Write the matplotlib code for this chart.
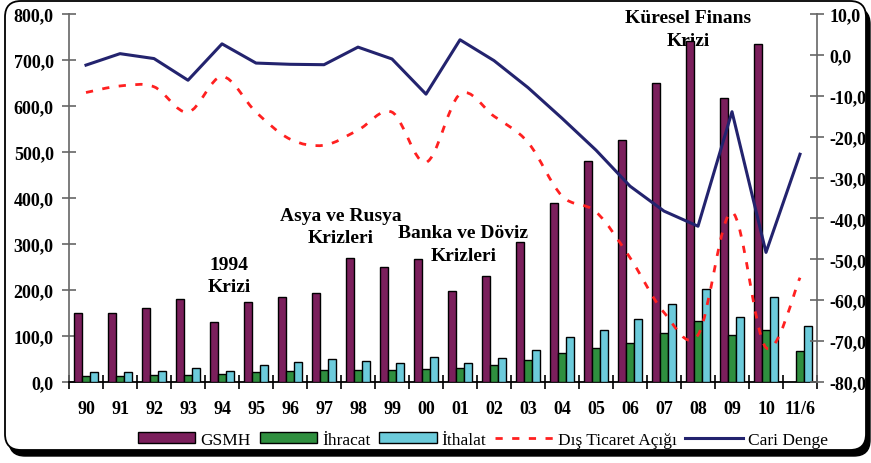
import numpy as np
import matplotlib
matplotlib.use("Agg")
import matplotlib.pyplot as plt
from matplotlib.path import Path
from matplotlib.patches import PathPatch, FancyBboxPatch, Patch
from matplotlib.lines import Line2D
from matplotlib.transforms import IdentityTransform
from matplotlib.ticker import FuncFormatter, FixedLocator

# data (billion USD)
years = ['90', '91', '92', '93', '94', '95', '96', '97', '98', '99', '00',
         '01', '02', '03', '04', '05', '06', '07', '08', '09', '10', '11/6']
gsmh = [151, 151, 160, 181, 131, 173, 184, 193, 270, 249, 267,
        197, 231, 305, 390, 481, 526, 649, 742, 617, 735, np.nan]
ihracat = [13, 14, 15, 15, 18, 22, 24, 27, 27, 27, 28,
           31, 37, 48, 64, 73, 85, 107, 132, 102, 114, 67]
ithalat = [22, 22, 24, 30, 24, 37, 43, 49, 46, 41, 55,
           42, 52, 70, 98, 114, 138, 170, 203, 142, 185, 122]
dis_ticaret = [-9.2, -7.6, -7.8, -14.0, -5.3, -14.0, -20.6, -22.1, -18.4, -14.0, -26.3,
               -9.6, -15.0, -21.4, -34.5, -38.4, -49.6, -63.0, -68.5, -38.5, -71.6, -54.5]
cari_denge = [-2.5, 0.3, -0.9, -6.2, 2.7, -2.0, -2.3, -2.4, 1.9, -1.0, -9.6,
              3.7, -1.4, -8.0, -15.5, -23.3, -32.1, -38.2, -41.9, -13.9, -48.3, -24.3]

c_gsmh = '#7b1f5c'
c_ihr = '#2f8f3f'
c_ith = '#6ccbdb'
c_dis = '#ff2020'
c_cari = '#23236e'
axis_gray = '#666666'

plt.rcParams['font.family'] = ['Liberation Serif', 'DejaVu Serif']


def smooth_path(xs, ys):
    # bezier through the points, excel-like smoothing
    pts = np.column_stack([xs, ys])
    verts = [pts[0]]
    codes = [Path.MOVETO]
    n = len(pts)
    for i in range(n - 1):
        p0 = pts[i - 1] if i > 0 else pts[i]
        p1 = pts[i]
        p2 = pts[i + 1]
        p3 = pts[i + 2] if i + 2 < n else pts[i + 1]
        c1 = p1 + (p2 - p0) / 6.0
        c2 = p2 - (p3 - p1) / 6.0
        verts += [c1, c2, p2]
        codes += [Path.CURVE4] * 3
    return Path(verts, codes)


fig = plt.figure(figsize=(8.71, 4.64), dpi=100)

# rounded frame with shadow
shadow = FancyBboxPatch((9, 7), 861, 448, boxstyle="round,pad=0,rounding_size=16",
                        transform=IdentityTransform(), facecolor='black', edgecolor='black', zorder=-10)
frame = FancyBboxPatch((5, 13), 861, 449, boxstyle="round,pad=0,rounding_size=16",
                       transform=IdentityTransform(), facecolor='white', edgecolor='black',
                       linewidth=1.3, zorder=-9)
fig.add_artist(shadow)
fig.add_artist(frame)

ax1 = fig.add_axes([69 / 871, 1 - 383 / 464, (817 - 69) / 871, (383 - 15) / 464])
ax1.patch.set_visible(False)
x = np.arange(len(years))
w = 0.227

ax1.bar(x - w, gsmh, w, color=c_gsmh, edgecolor='black', linewidth=1.0, zorder=3)
ax1.bar(x, ihracat, w, color=c_ihr, edgecolor='black', linewidth=1.0, zorder=3)
ax1.bar(x + w, ithalat, w, color=c_ith, edgecolor='black', linewidth=1.0, zorder=3)

ax1.set_xlim(-0.5, len(years) - 0.5)
ax1.set_ylim(0, 800)
ax1.set_yticks(np.arange(0, 801, 100))
ax1.yaxis.set_major_formatter(FuncFormatter(lambda v, p: f'{v:.1f}'.replace('.', ',')))
ax1.set_xticks(x)
ax1.set_xticklabels(years)
ax1.xaxis.set_minor_locator(FixedLocator(np.arange(-0.5, len(years), 1.0)))
ax1.tick_params(axis='x', which='major', length=0, pad=13)
ax1.tick_params(axis='x', which='minor', direction='inout', length=10, width=1.2, color='black')
ax1.tick_params(axis='y', direction='inout', length=10, width=1.2, color=axis_gray, pad=6)
for lab in ax1.get_xticklabels() + ax1.get_yticklabels():
    lab.set_fontweight('bold')
    lab.set_fontsize(13)

for s in ['top', 'right']:
    ax1.spines[s].set_visible(False)
ax1.spines['left'].set_color(axis_gray)
ax1.spines['left'].set_linewidth(1.2)
ax1.spines['bottom'].set_color('black')
ax1.spines['bottom'].set_linewidth(1.3)

# crisis labels (y given in picture pixels, centre of the two lines)
notes = [(4.2, 276.5, '1994\nKrizi'), (7.5, 227.5, 'Asya ve Rusya\nKrizleri'),
         (11.1, 245, 'Banka ve Döviz\nKrizleri'), (17.7, 30, 'Küresel Finans\nKrizi')]
for nx, ny, txt in notes:
    ax1.text(nx, (383 - ny) / 0.46, txt, ha='center', va='center', fontsize=14,
             fontweight='bold', linespacing=1.4, zorder=1)

ax2 = ax1.twinx()
ax2.set_ylim(-80, 10)
ax2.set_yticks(np.arange(-80, 11, 10))
ax2.yaxis.set_major_formatter(FuncFormatter(lambda v, p: f'{v:.1f}'.replace('.', ',')))
ax2.tick_params(axis='y', direction='inout', length=10, width=1.2, color=axis_gray, pad=4)
for lab in ax2.get_yticklabels():
    lab.set_fontweight('bold')
    lab.set_fontsize(13)
for s in ['top', 'left', 'bottom']:
    ax2.spines[s].set_visible(False)
ax2.spines['right'].set_color(axis_gray)
ax2.spines['right'].set_linewidth(1.2)

dash = (0, (2.6, 3.4))
ax2.add_patch(PathPatch(smooth_path(x.astype(float), np.array(dis_ticaret)), fill=False,
                        edgecolor=c_dis, linewidth=2.0, linestyle=dash, zorder=4))
ax2.plot(x, cari_denge, color=c_cari, linewidth=2.2, zorder=5)

handles = [Patch(facecolor=c_gsmh, edgecolor='black', linewidth=1.0),
           Patch(facecolor=c_ihr, edgecolor='black', linewidth=1.0),
           Patch(facecolor=c_ith, edgecolor='black', linewidth=1.0),
           Line2D([], [], color=c_dis, linewidth=2.0, linestyle=dash),
           Line2D([], [], color=c_cari, linewidth=2.2)]
labels = ['GSMH', 'İhracat', 'İthalat', 'Dış Ticaret Açığı', 'Cari Denge']
fig.legend(handles, labels, loc='center', bbox_to_anchor=(483 / 871, 1 - 441 / 464), ncol=5,
           frameon=False, fontsize=12.5, handlelength=3.3, handleheight=0.6,
           handletextpad=0.3, columnspacing=0.5, borderaxespad=0)

fig.savefig('out.png', dpi=100)
